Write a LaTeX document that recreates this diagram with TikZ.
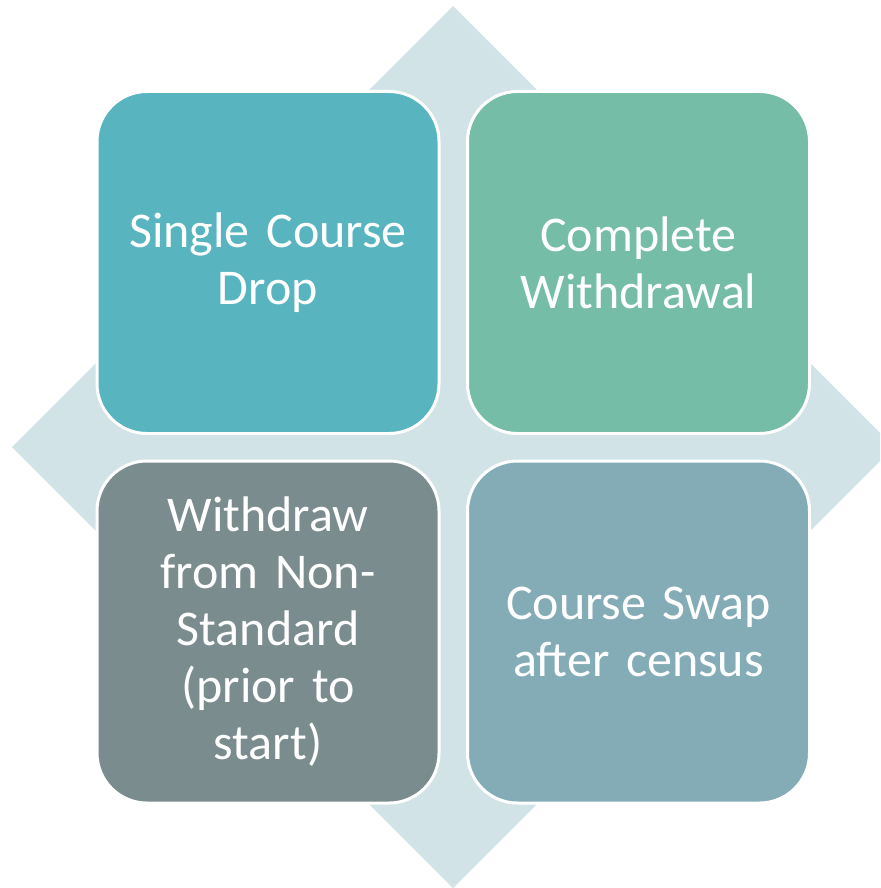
\documentclass[tikz,border=0pt]{standalone}
\usepackage{fontspec}
\setmainfont{Carlito}
\usepackage{xcolor}
\definecolor{backdiamond}{HTML}{D1E3E7}
\definecolor{dropcol}{HTML}{58B5C0}
\definecolor{withdrawcol}{HTML}{75BDA7}
\definecolor{nonstdcol}{HTML}{7A8C8E}
\definecolor{swapcol}{HTML}{84ACB6}
\tikzset{
  tile/.style={shape=rectangle, rounded corners=50pt, draw=white, line width=3pt,
    minimum width=342pt, minimum height=342pt, text width=330pt, align=center,
    text=white, font=\fontsize{50}{57}\selectfont}
}
\begin{document}
\begin{tikzpicture}[x=1pt,y=-1pt]
                    \useasboundingbox (0,0) rectangle (880,888);
                    \clip (0,0) rectangle (880,888);
                    \fill[backdiamond] (453,6) -- (894,447) -- (453,888) -- (12,447) -- cycle;

                    \node[tile,fill=dropcol] (drop) at (268,262.5) {Single Course\\Drop};
                    \node[tile,fill=withdrawcol] (withdraw) at (638.5,262.5) {Complete\\Withdrawal};
                    \node[tile,fill=nonstdcol] (nonstd) at (268,632) {Withdraw\\from Non-\\Standard\\(prior to\\start)};
                    \node[tile,fill=swapcol] (swap) at (638.5,632) {Course Swap\\after census};
                \end{tikzpicture}
\end{document}
